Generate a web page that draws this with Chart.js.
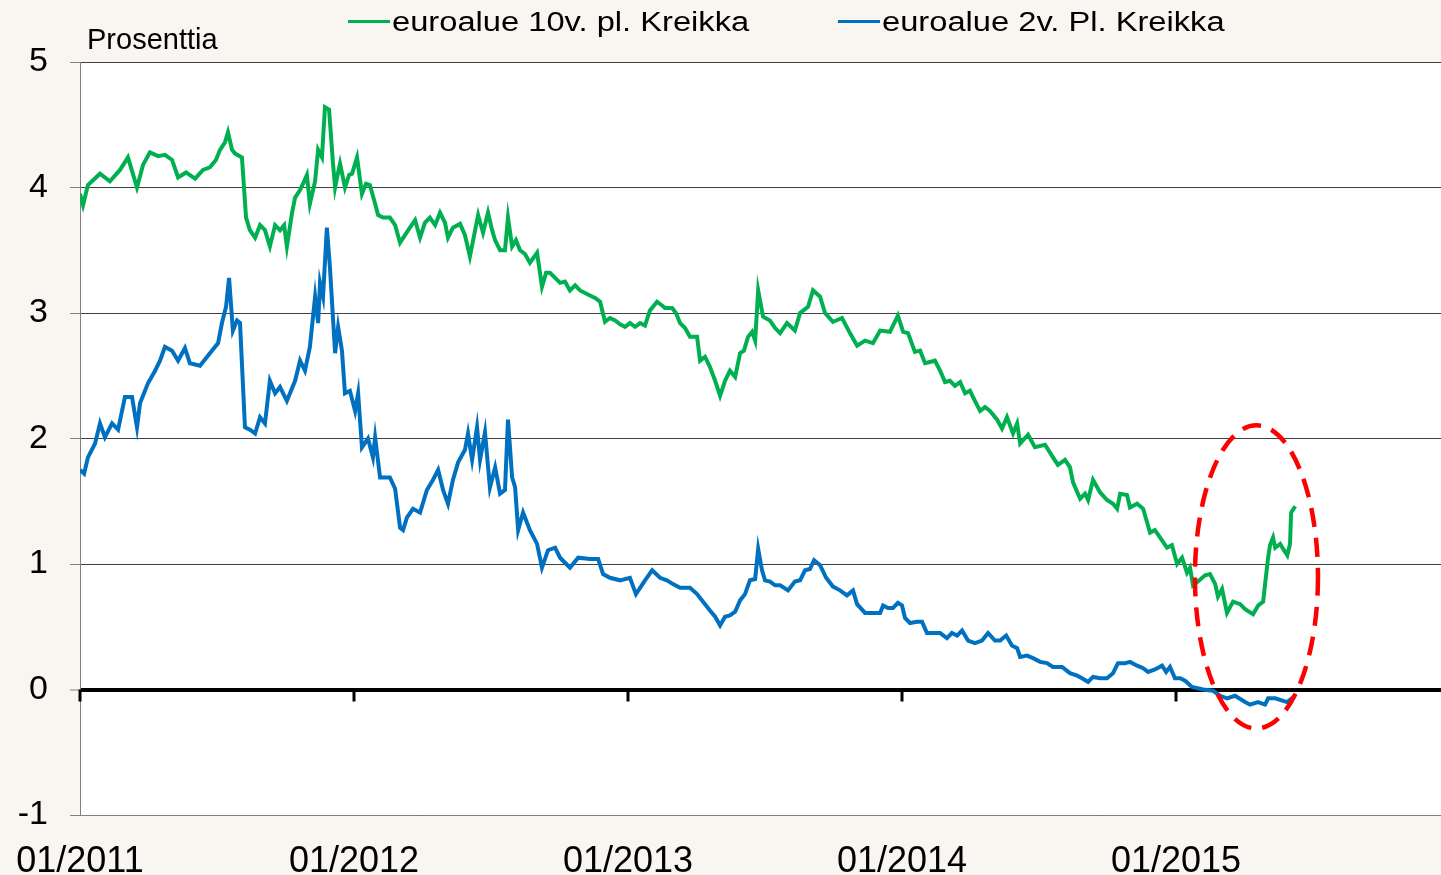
<!DOCTYPE html>
<html lang="fi">
<head>
    <meta charset="UTF-8">
    <title>Euroalueen valtionlainojen korot</title>

    <!-- Chart.js -->
    <script src="https://cdn.jsdelivr.net/npm/chart.js"></script>

    <style>
        html, body {
            margin: 0;
            padding: 0;
            background: #F9F5F0;
        }
        body {
            width: 1441px;
            height: 875px;
            position: relative;
            overflow: hidden;
            font-family: Arial, "Liberation Sans", sans-serif;
            color: #000;
        }
        #chart { position: absolute; left: 0; top: 0; }
        .legend-item { position: absolute; top: 0; height: 44px; }
        .swatch { position: absolute; left: 0; top: 20px; width: 42px; height: 3px; }
        .legend-label {
            position: absolute;
            left: 44px;
            top: 9px;
            font-size: 27px;
            line-height: 1;
            white-space: nowrap;
            transform: scaleX(1.21);
            transform-origin: left center;
        }
        .unit {
            position: absolute;
            left: 87px;
            top: 25px;
            font-size: 29px;
            line-height: 1;
        }
    </style>
</head>
<body>

    <canvas id="chart" width="1441" height="875"></canvas>

    <!-- legend + unit label -->
    <div class="legend-item" style="left:348px">
        <span class="swatch" style="background:#00B050"></span>
        <span class="legend-label">euroalue 10v. pl. Kreikka</span>
    </div>
    <div class="legend-item" style="left:838px">
        <span class="swatch" style="background:#0070C0"></span>
        <span class="legend-label">euroalue 2v. Pl. Kreikka</span>
    </div>
    <div class="unit">Prosenttia</div>

    <script>
        // Data: time as decimal year, yield in percent
        const greenLabel = 'euroalue 10v. pl. Kreikka';
        const greenT = [
            2011.000, 2011.011, 2011.029, 2011.073, 2011.109, 2011.146, 2011.175, 2011.208, 2011.230, 2011.255,
            2011.285, 2011.310, 2011.336, 2011.358, 2011.387, 2011.420, 2011.449, 2011.474, 2011.496, 2011.511,
            2011.529, 2011.540, 2011.555, 2011.566, 2011.591, 2011.606, 2011.620, 2011.639, 2011.657, 2011.675,
            2011.693, 2011.712, 2011.730, 2011.745, 2011.755, 2011.774, 2011.785, 2011.803, 2011.814, 2011.828,
            2011.839, 2011.858, 2011.869, 2011.883, 2011.894, 2011.909, 2011.923, 2011.931, 2011.942, 2011.949,
            2011.967, 2011.982, 2011.993, 2012.011, 2012.029, 2012.044, 2012.058, 2012.077, 2012.088, 2012.106,
            2012.131, 2012.150, 2012.168, 2012.186, 2012.204, 2012.223, 2012.241, 2012.259, 2012.277, 2012.296,
            2012.314, 2012.332, 2012.343, 2012.361, 2012.387, 2012.405, 2012.423, 2012.442, 2012.453, 2012.471,
            2012.489, 2012.504, 2012.515, 2012.533, 2012.551, 2012.562, 2012.577, 2012.591, 2012.606, 2012.624,
            2012.642, 2012.668, 2012.686, 2012.701, 2012.715, 2012.734, 2012.752, 2012.770, 2012.788, 2012.807,
            2012.825, 2012.843, 2012.861, 2012.880, 2012.898, 2012.916, 2012.934, 2012.953, 2012.971, 2012.989,
            2013.007, 2013.026, 2013.044, 2013.062, 2013.080, 2013.106, 2013.124, 2013.135, 2013.161, 2013.175,
            2013.190, 2013.208, 2013.226, 2013.252, 2013.263, 2013.281, 2013.299, 2013.318, 2013.336, 2013.354,
            2013.372, 2013.391, 2013.409, 2013.423, 2013.438, 2013.453, 2013.464, 2013.475, 2013.493, 2013.518,
            2013.537, 2013.555, 2013.580, 2013.609, 2013.628, 2013.657, 2013.675, 2013.701, 2013.719, 2013.748,
            2013.781, 2013.810, 2013.836, 2013.865, 2013.894, 2013.920,
            2013.956, 2013.985, 2014.004, 2014.022, 2014.047, 2014.066, 2014.084, 2014.102, 2014.120, 2014.139,
            2014.157, 2014.175, 2014.193, 2014.212, 2014.230, 2014.248, 2014.266, 2014.285, 2014.303, 2014.321,
            2014.347, 2014.365, 2014.383, 2014.405, 2014.420, 2014.431, 2014.460, 2014.485, 2014.522, 2014.551,
            2014.569, 2014.595, 2014.613, 2014.624, 2014.650, 2014.668, 2014.679, 2014.697, 2014.723, 2014.748,
            2014.770, 2014.785, 2014.796, 2014.821, 2014.832, 2014.858, 2014.880, 2014.905, 2014.923, 2014.942,
            2014.967, 2014.985, 2015.004, 2015.022, 2015.040,
            2015.051, 2015.062, 2015.080, 2015.106, 2015.124, 2015.143, 2015.153, 2015.168, 2015.186, 2015.208,
            2015.234, 2015.252, 2015.281, 2015.300, 2015.318, 2015.325, 2015.336, 2015.343, 2015.354, 2015.362,
            2015.380, 2015.391, 2015.406, 2015.416, 2015.420, 2015.435
        ];
        const greenV = [
            3.95, 3.86, 4.02, 4.11, 4.05, 4.14, 4.24, 4.00, 4.18, 4.28,
            4.25, 4.26, 4.22, 4.08, 4.12, 4.07, 4.14, 4.16, 4.22, 4.30,
            4.36, 4.44, 4.30, 4.27, 4.24, 3.76, 3.66, 3.60, 3.70, 3.66,
            3.53, 3.70, 3.66, 3.70, 3.53, 3.80, 3.92, 3.98, 4.03, 4.10,
            3.87, 4.05, 4.30, 4.24, 4.64, 4.62, 4.20, 4.00, 4.12, 4.19,
            4.00, 4.10, 4.11, 4.24, 3.95, 4.03, 4.02, 3.87, 3.78, 3.76,
            3.76, 3.70, 3.56, 3.62, 3.68, 3.74, 3.60, 3.72, 3.76, 3.70,
            3.80, 3.72, 3.60, 3.68, 3.71, 3.62, 3.45, 3.66, 3.78, 3.64,
            3.80, 3.66, 3.58, 3.50, 3.50, 3.76, 3.53, 3.58, 3.50, 3.47,
            3.40, 3.48, 3.21, 3.32, 3.32, 3.28, 3.24, 3.25, 3.18, 3.22,
            3.18, 3.16, 3.14, 3.12, 3.09, 2.93, 2.96, 2.94, 2.91, 2.89,
            2.92, 2.89, 2.92, 2.90, 3.02, 3.09, 3.06, 3.04, 3.04, 3.00,
            2.92, 2.88, 2.81, 2.81, 2.62, 2.65, 2.57, 2.46, 2.34, 2.46,
            2.54, 2.49, 2.68, 2.70, 2.81, 2.85, 2.78, 3.18, 2.97, 2.94,
            2.88, 2.84, 2.92, 2.86, 3.00, 3.05, 3.18, 3.13, 3.00, 2.93,
            2.96, 2.84, 2.74, 2.78, 2.76, 2.86,
            2.85, 2.98, 2.85, 2.84, 2.69, 2.70, 2.60, 2.61, 2.62, 2.54,
            2.45, 2.46, 2.42, 2.45, 2.36, 2.38, 2.30, 2.22, 2.25, 2.22,
            2.15, 2.08, 2.17, 2.04, 2.12, 1.96, 2.03, 1.93, 1.95, 1.85,
            1.79, 1.83, 1.77, 1.65, 1.52, 1.56, 1.51, 1.67, 1.57, 1.51,
            1.48, 1.44, 1.56, 1.55, 1.45, 1.48, 1.44, 1.25, 1.27, 1.21,
            1.13, 1.15, 1.00, 1.05, 0.93,
            0.97, 0.83, 0.86, 0.91, 0.92, 0.84, 0.74, 0.80, 0.61, 0.70,
            0.68, 0.64, 0.60, 0.67, 0.70, 0.84, 1.05, 1.15, 1.21, 1.13,
            1.16, 1.12, 1.07, 1.16, 1.41, 1.46
        ];

        const blueLabel = 'euroalue 2v. Pl. Kreikka';
        const blueT = [
            2011.000, 2011.015, 2011.029, 2011.055, 2011.073, 2011.091, 2011.117, 2011.139, 2011.164, 2011.190,
            2011.208, 2011.219, 2011.248, 2011.274, 2011.292, 2011.310, 2011.336, 2011.358, 2011.383, 2011.401,
            2011.438, 2011.474, 2011.504, 2011.518, 2011.533, 2011.544, 2011.558, 2011.573, 2011.584, 2011.602,
            2011.620, 2011.639, 2011.657, 2011.675, 2011.693, 2011.712, 2011.730, 2011.755, 2011.785, 2011.803,
            2011.821, 2011.839, 2011.858, 2011.869, 2011.876, 2011.887, 2011.901, 2011.912, 2011.931, 2011.942,
            2011.956, 2011.967, 2011.985, 2012.004, 2012.015, 2012.029, 2012.051, 2012.069, 2012.077, 2012.095,
            2012.131, 2012.150, 2012.168, 2012.179, 2012.193, 2012.215, 2012.241, 2012.266, 2012.288, 2012.307,
            2012.325, 2012.343, 2012.361, 2012.380, 2012.405, 2012.416, 2012.431, 2012.449, 2012.460, 2012.478,
            2012.496, 2012.515, 2012.533, 2012.551, 2012.562, 2012.577, 2012.588, 2012.599, 2012.617, 2012.642,
            2012.668, 2012.686, 2012.708, 2012.734, 2012.752, 2012.788, 2012.818, 2012.861, 2012.891, 2012.909,
            2012.934, 2012.971, 2013.007, 2013.029, 2013.062, 2013.088, 2013.117, 2013.142, 2013.164, 2013.190,
            2013.226, 2013.252, 2013.281, 2013.299, 2013.318, 2013.336, 2013.354, 2013.372, 2013.391, 2013.409,
            2013.427, 2013.445, 2013.464, 2013.475, 2013.489, 2013.500, 2013.518, 2013.537, 2013.555, 2013.584,
            2013.609, 2013.628, 2013.646, 2013.664, 2013.679, 2013.701, 2013.723, 2013.748, 2013.774, 2013.799,
            2013.821, 2013.836, 2013.865,
            2013.920, 2013.931, 2013.949, 2013.967, 2013.985, 2014.000, 2014.011, 2014.029, 2014.055, 2014.073,
            2014.091, 2014.113, 2014.139, 2014.164, 2014.182, 2014.201, 2014.219, 2014.241, 2014.266, 2014.292,
            2014.314, 2014.339, 2014.358, 2014.380, 2014.401, 2014.420, 2014.431, 2014.456, 2014.478, 2014.504,
            2014.529, 2014.551, 2014.584, 2014.613, 2014.639, 2014.657, 2014.679, 2014.697, 2014.723, 2014.748,
            2014.770, 2014.788, 2014.814, 2014.832, 2014.858, 2014.880, 2014.898, 2014.923, 2014.949, 2014.964,
            2014.978, 2014.996, 2015.015, 2015.033, 2015.058,
            2015.099, 2015.135, 2015.161, 2015.186, 2015.215, 2015.252, 2015.270, 2015.299, 2015.325, 2015.336,
            2015.362, 2015.391, 2015.405, 2015.423, 2015.434
        ];
        const blueV = [
            1.75, 1.72, 1.85, 1.96, 2.12, 2.01, 2.12, 2.07, 2.33, 2.33,
            2.09, 2.28, 2.44, 2.54, 2.62, 2.73, 2.70, 2.62, 2.72, 2.60,
            2.58, 2.68, 2.76, 2.92, 3.05, 3.28, 2.86, 2.94, 2.92, 2.09,
            2.07, 2.04, 2.17, 2.12, 2.46, 2.36, 2.41, 2.30, 2.46, 2.62,
            2.54, 2.73, 3.13, 2.92, 3.24, 3.13, 3.68, 3.37, 2.68, 2.89,
            2.70, 2.36, 2.38, 2.22, 2.36, 1.93, 2.00, 1.85, 2.01, 1.69,
            1.69, 1.60, 1.29, 1.27, 1.37, 1.44, 1.41, 1.59, 1.67, 1.75,
            1.59, 1.48, 1.67, 1.81, 1.91, 2.04, 1.83, 2.09, 1.83, 2.05,
            1.61, 1.77, 1.56, 1.59, 2.15, 1.69, 1.61, 1.27, 1.41, 1.27,
            1.16, 0.97, 1.11, 1.13, 1.05, 0.97, 1.05, 1.04, 1.04, 0.92,
            0.89, 0.87, 0.89, 0.76, 0.87, 0.95, 0.89, 0.87, 0.84, 0.81,
            0.81, 0.76, 0.68, 0.63, 0.58, 0.51, 0.58, 0.59, 0.62, 0.71,
            0.76, 0.87, 0.88, 1.12, 0.95, 0.87, 0.86, 0.83, 0.83, 0.79,
            0.86, 0.87, 0.95, 0.96, 1.03, 0.99, 0.89, 0.82, 0.79, 0.75,
            0.79, 0.68, 0.61,
            0.61, 0.67, 0.65, 0.65, 0.69, 0.67, 0.57, 0.53, 0.54, 0.54,
            0.45, 0.45, 0.45, 0.41, 0.45, 0.43, 0.47, 0.39, 0.37, 0.39,
            0.45, 0.39, 0.39, 0.43, 0.35, 0.33, 0.26, 0.27, 0.25, 0.22,
            0.21, 0.18, 0.18, 0.13, 0.11, 0.09, 0.06, 0.10, 0.09, 0.09,
            0.13, 0.21, 0.21, 0.22, 0.19, 0.17, 0.14, 0.16, 0.19, 0.14,
            0.18, 0.09, 0.09, 0.07, 0.02,
            0.00, -0.01, -0.05, -0.07, -0.05, -0.10, -0.12, -0.10, -0.12, -0.07,
            -0.07, -0.09, -0.10, -0.07, -0.05
        ];

        // Axis setup
        const xTickYears = [2011, 2012, 2013, 2014, 2015];
        const xMin = 2011;
        const xMax = 2015.967;
        const yMin = -1;
        const yMax = 5;

        // Red dashed ring around the 2015 move (bounds in data units)
        const ring = { x0: 2015.069, x1: 2015.518, y0: -0.31, y1: 2.105 };

        const toPoints = (ts, vs) => ts.map((t, i) => ({ x: t, y: vs[i] }));

        Chart.defaults.font.family = 'Arial, "Liberation Sans", sans-serif';
        Chart.defaults.color = '#000';

        const plotBackground = {
            id: 'plotBackground',
            beforeDraw(chart) {
                const { ctx, chartArea: a } = chart;
                ctx.save();
                ctx.fillStyle = '#FFFFFF';
                ctx.fillRect(a.left, a.top, a.right - a.left, a.bottom - a.top);
                ctx.restore();
            }
        };

        // tick marks hang from the zero line, not from the bottom of the plot
        const zeroLineTicks = {
            id: 'zeroLineTicks',
            beforeDatasetsDraw(chart) {
                const { ctx, scales } = chart;
                const y0 = scales.y.getPixelForValue(0);
                ctx.save();
                ctx.strokeStyle = '#000';
                ctx.lineWidth = 3;
                xTickYears.forEach(yr => {
                    const px = Math.round(scales.x.getPixelForValue(yr));
                    ctx.beginPath();
                    ctx.moveTo(px, y0);
                    ctx.lineTo(px, y0 + 12);
                    ctx.stroke();
                });
                ctx.restore();
            }
        };

        const highlightRing = {
            id: 'highlightRing',
            afterDatasetsDraw(chart) {
                const { ctx, scales } = chart;
                const left = scales.x.getPixelForValue(ring.x0);
                const right = scales.x.getPixelForValue(ring.x1);
                const top = scales.y.getPixelForValue(ring.y1);
                const bottom = scales.y.getPixelForValue(ring.y0);
                ctx.save();
                ctx.strokeStyle = '#FF0000';
                ctx.lineWidth = 4.5;
                ctx.setLineDash([19, 11]);
                ctx.beginPath();
                ctx.ellipse((left + right) / 2, (top + bottom) / 2, (right - left) / 2, (bottom - top) / 2, 0, 0, Math.PI * 2);
                ctx.stroke();
                ctx.restore();
            }
        };

        new Chart(document.getElementById('chart'), {
            type: 'line',
            data: {
                datasets: [
                    {
                        label: greenLabel,
                        data: toPoints(greenT, greenV),
                        borderColor: '#00B050',
                        borderWidth: 4,
                        pointRadius: 0,
                        tension: 0,
                        fill: false
                    },
                    {
                        label: blueLabel,
                        data: toPoints(blueT, blueV),
                        borderColor: '#0070C0',
                        borderWidth: 4,
                        pointRadius: 0,
                        tension: 0,
                        fill: false
                    }
                ]
            },
            options: {
                responsive: false,
                animation: false,
                devicePixelRatio: 1,
                layout: { autoPadding: false, padding: { top: 62, right: 0, bottom: 0, left: 0 } },
                plugins: {
                    legend: { display: false },
                    tooltip: { enabled: false }
                },
                scales: {
                    x: {
                        type: 'linear',
                        min: xMin,
                        max: xMax,
                        afterBuildTicks: s => { s.ticks = xTickYears.map(v => ({ value: v })); },
                        // fixed axis band; drop the label overhang padding so the plot starts at x=80
                        afterFit: s => { s.height = 60; s.paddingLeft = 0; s.paddingRight = 0; },
                        ticks: {
                            autoSkip: false,
                            maxRotation: 0,
                            padding: 17,
                            font: { size: 36 },
                            callback: v => '01/' + v
                        },
                        grid: { display: false },
                        border: { display: true, color: '#808080', width: 1 }
                    },
                    y: {
                        min: yMin,
                        max: yMax,
                        afterFit: s => { s.width = 80; },
                        ticks: {
                            stepSize: 1,
                            padding: 22,
                            font: { size: 34 }
                        },
                        grid: {
                            color: c => (c.tick && c.tick.value === 0) ? '#000000' : '#404040',
                            lineWidth: c => (c.tick && c.tick.value === 0) ? 4 : 1,
                            tickColor: '#808080',
                            tickWidth: 1,
                            tickLength: 10
                        },
                        border: { color: '#808080', width: 1 }
                    }
                }
            },
            plugins: [plotBackground, zeroLineTicks, highlightRing]
        });
    </script>

</body>
</html>
